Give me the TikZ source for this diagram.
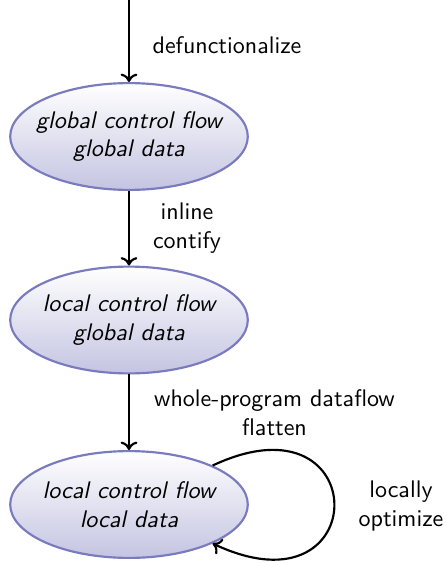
\documentclass[tikz,border=0pt]{standalone}
\usetikzlibrary{shapes.geometric,arrows.meta}
\definecolor{stageborder}{RGB}{122,122,190}
\definecolor{stagefill}{RGB}{196,196,226}
\begin{document}
\begin{tikzpicture}[x=0.41667pt,y=-0.41667pt,
  stage/.style={ellipse, draw=stageborder, line width=0.9pt,
    top color=white, bottom color=stagefill,
    minimum width=99pt, minimum height=44.5pt, inner sep=-12pt,
    align=center, font=\sffamily\itshape},
  pass/.style={draw, line width=0.9pt, -{To[length=3.5pt,width=7pt]}},
  passlabel/.style={align=center, font=\sffamily}]
  \useasboundingbox (0,0) rectangle (446,563);

  \coordinate (src) at (129,0);
  \node[stage] (s1) at (129,136.5) {global control flow\\global data};
  \node[stage] (s2) at (129,320) {local control flow\\global data};
  \node[stage] (s3) at (129,504.5) {local control flow\\local data};

  \draw[pass] (src) -- (s1);
  \draw[pass] (s1) -- (s2);
  \draw[pass] (s2) -- (s3);
  \draw[pass] (s3.25) .. controls +(162,-76) and +(162,76) .. (s3.-25);

  \node[passlabel] (l1) at (227,45) {defunctionalize};
  \node[passlabel] (l2) at (187,228) {inline\\contify};
  \node[passlabel] (l3) at (274.5,413) {whole-program dataflow\\flatten};
  \node[passlabel] (l4) at (401,506) {locally\\optimize};
\end{tikzpicture}
\end{document}
